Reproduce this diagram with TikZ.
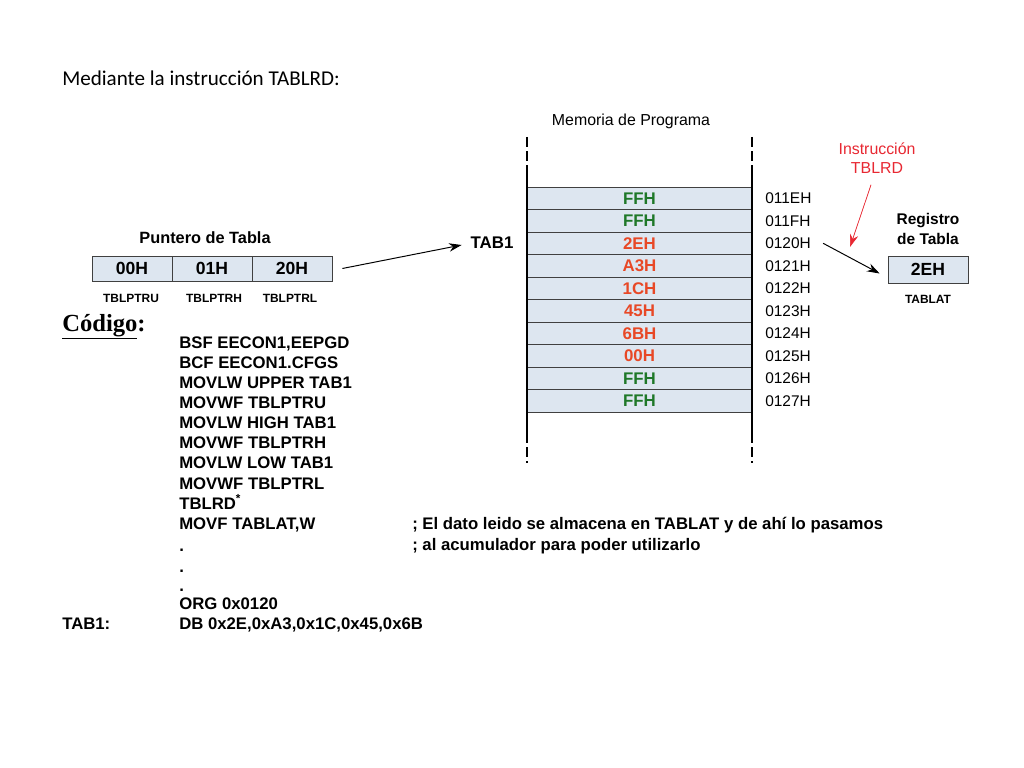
\documentclass[tikz,border=0pt]{standalone}
\usepackage{fontspec}
\setmainfont{Liberation Sans}
\newfontfamily\calibri{Carlito}
\newfontfamily\timesf{Liberation Serif}
\usetikzlibrary{arrows.meta}
\definecolor{cellfill}{RGB}{221,230,240}
\definecolor{valgreen}{RGB}{30,120,40}
\definecolor{valred}{RGB}{232,72,38}
\definecolor{instred}{RGB}{232,40,50}
\tikzset{
  cell/.style={draw=black!75,fill=cellfill,line width=0.5pt,minimum width=2cm,minimum height=0.625cm,inner sep=0pt,font=\fontsize{12.5}{14}\selectfont\bfseries},
  memcell/.style={draw=black!75,fill=cellfill,line width=0.5pt,minimum width=5.625cm,minimum height=0.5625cm,inner sep=0pt,font=\fontsize{12}{13}\selectfont\bfseries},
  addr/.style={anchor=west,inner sep=0pt,font=\fontsize{11}{13}\selectfont},
  reglab/.style={inner sep=0pt,font=\fontsize{8.5}{10}\selectfont\bfseries},
  code/.style={anchor=base west,inner sep=0pt,font=\fontsize{11.9}{13}\selectfont\bfseries},
  ptr/.style={-{Stealth[length=9pt,width=6pt]},line width=0.7pt},
}
\begin{document}
\begin{tikzpicture}[x=0.025cm,y=-0.025cm]
  \useasboundingbox[fill=white] (0,0) rectangle (1024,768);

  \node[anchor=base west,inner sep=0pt,font=\calibri\fontsize{15}{18}\selectfont] (title) at (62,86) {Mediante la instrucción TABLRD:};

  % puntero de tabla
  \node[font=\fontsize{11.6}{13}\selectfont\bfseries] (ptitle) at (205,238) {Puntero de Tabla};
  \node[cell] (pu) at (132,268.5) {00H};
  \node[cell] (ph) at (212,268.5) {01H};
  \node[cell] (pl) at (292,268.5) {20H};
  \node[reglab] (lu) at (131,298) {TBLPTRU};
  \node[reglab] (lh) at (214,298) {TBLPTRH};
  \node[reglab] (ll) at (290,298) {TBLPTRL};

  % memoria de programa
  \node[font=\fontsize{11.3}{13}\selectfont] (mtitle) at (631,121) {Memoria de Programa};
  \node[memcell,text=valgreen] (m0) at (639.5,198.3) {FFH};
  \node[memcell,text=valgreen] (m1) at (639.5,220.8) {FFH};
  \node[memcell,text=valred] (m2) at (639.5,243.3) {2EH};
  \node[memcell,text=valred] (m3) at (639.5,265.8) {A3H};
  \node[memcell,text=valred] (m4) at (639.5,288.3) {1CH};
  \node[memcell,text=valred] (m5) at (639.5,310.8) {45H};
  \node[memcell,text=valred] (m6) at (639.5,333.3) {6BH};
  \node[memcell,text=valred] (m7) at (639.5,355.8) {00H};
  \node[memcell,text=valgreen] (m8) at (639.5,378.3) {FFH};
  \node[memcell,text=valgreen] (m9) at (639.5,400.8) {FFH};
  \draw[line width=2pt] (527,167) -- (527,433);
  \draw[line width=2pt] (752,167) -- (752,433);
  \draw[line width=2pt,dash pattern=on 7pt off 3pt] (527,137) -- (527,167);
  \draw[line width=2pt,dash pattern=on 7pt off 3pt] (752,137) -- (752,167);
  \draw[line width=2pt,dash pattern=on 7pt off 3pt] (527,433) -- (527,463);
  \draw[line width=2pt,dash pattern=on 7pt off 3pt] (752,433) -- (752,463);

  \node[addr] (a0) at (765,198.3) {011EH};
  \node[addr] (a1) at (765,220.8) {011FH};
  \node[addr] (a2) at (765,243.3) {0120H};
  \node[addr] (a3) at (765,265.8) {0121H};
  \node[addr] (a4) at (765,288.3) {0122H};
  \node[addr] (a5) at (765,310.8) {0123H};
  \node[addr] (a6) at (765,333.3) {0124H};
  \node[addr] (a7) at (765,355.8) {0125H};
  \node[addr] (a8) at (765,378.3) {0126H};
  \node[addr] (a9) at (765,400.8) {0127H};

  \node[font=\fontsize{12}{14}\selectfont\bfseries] (tab) at (492,243) {TAB1};
  \draw[ptr] ([xshift=0.25cm]pl.east) -- ([xshift=-0.1cm,yshift=-0.05cm]tab.west);

  % registro de tabla
  \node[align=center,font=\fontsize{11}{14}\selectfont\bfseries] (rtitle) at (928,229) {Registro\\de Tabla};
  \node[cell,minimum height=0.675cm] (reg) at (928,269.5) {2EH};
  \node[reglab] (rl) at (928,299) {TABLAT};
  \draw[ptr] ([xshift=0.3cm]a2.east) -- ([xshift=-0.2cm,yshift=-0.1cm]reg.west);

  \node[align=center,text=instred,font=\fontsize{11.3}{13.5}\selectfont] (instr) at (877,158.5) {Instrucción\\TBLRD};
  \coordinate (hit) at (850,247);
  \draw[ptr,draw=instred,fill=instred,line width=0.5pt] ([xshift=-0.15cm,yshift=-0.15cm]instr.south) -- (hit);

  % codigo
  \node[anchor=base west,inner sep=0pt,font=\timesf\fontsize{17.5}{20}\selectfont\bfseries] (cod) at (62,331) {\underline{Código}:};
  \node[code] (c1) at (179,348) {BSF EECON1,EEPGD};
  \node[code] (c2) at (179,368) {BCF EECON1.CFGS};
  \node[code] (c3) at (179,388) {MOVLW UPPER TAB1};
  \node[code] (c4) at (179,408) {MOVWF TBLPTRU};
  \node[code] (c5) at (179,428) {MOVLW HIGH TAB1};
  \node[code] (c6) at (179,448) {MOVWF TBLPTRH};
  \node[code] (c7) at (179,468) {MOVLW LOW TAB1};
  \node[code] (c8) at (179,489) {MOVWF TBLPTRL};
  \node[code] (c9) at (179,509) {TBLRD\textsuperscript{*}};
  \node[code] (c10) at (179,529) {MOVF TABLAT,W};
  \node[code] (c11) at (179,551) {.};
  \node[code] (c12) at (179,572) {.};
  \node[code] (c13) at (179,591) {.};
  \node[code] (c14) at (179,609) {ORG 0x0120};
  \node[code] (c15) at (179,629) {DB 0x2E,0xA3,0x1C,0x45,0x6B};
  \node[code] (lab) at (62,629) {TAB1:};
  \node[code] (k1) at (412,529) {; El dato leido se almacena en TABLAT y de ahí lo pasamos};
  \node[code] (k2) at (412,550) {; al acumulador para poder utilizarlo};
\end{tikzpicture}
\end{document}
